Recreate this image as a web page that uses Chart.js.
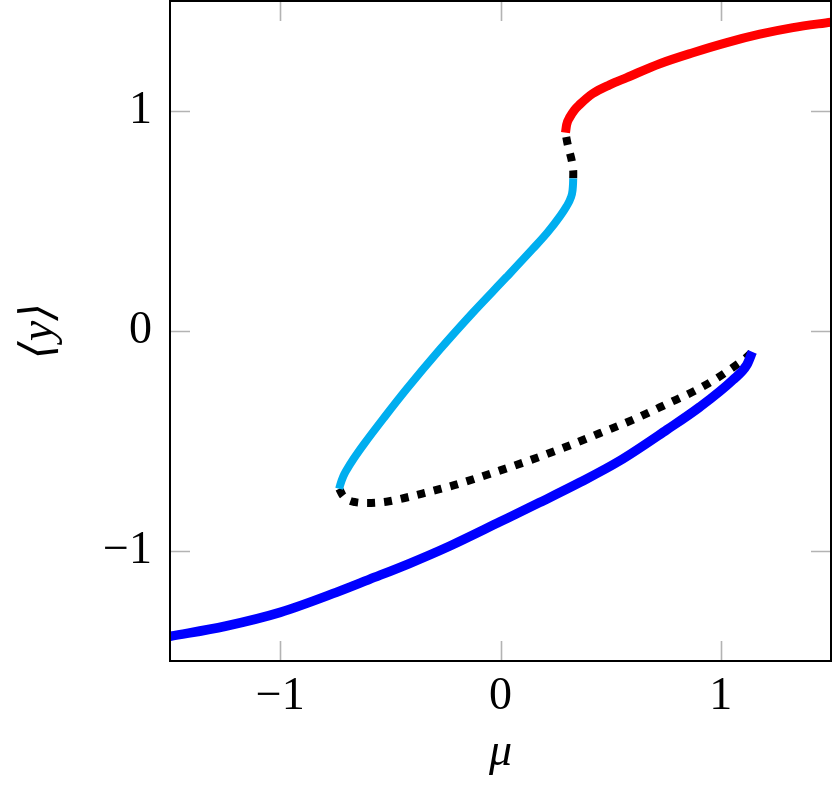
<!DOCTYPE html>
<html>
<head>
<meta charset="utf-8">
<script src="https://cdn.jsdelivr.net/npm/chart.js@4/dist/chart.umd.min.js"></script>
<style>
html,body{margin:0;padding:0;background:#fff;}
canvas{display:block;}
</style>
</head>
<body>
<canvas id="c" width="832" height="789"></canvas>
<script>
// ---- data ----
const xTicks = [-1, 0, 1];
const yTicks = [-1, 0, 1];

// lower stable branch
const blueX = [-1.5, -1.25, -1.0, -0.745, -0.595, -0.414, -0.245, 0, 0.177, 0.359, 0.541, 0.755, 0.905, 1.055, 1.118, 1.143];
const blueY = [-1.388, -1.342, -1.279, -1.188, -1.129, -1.057, -0.984, -0.866, -0.780, -0.689, -0.590, -0.449, -0.345, -0.222, -0.154, -0.095];

// middle stable branch
const cyanX = [-0.732, -0.727, -0.714, -0.695, -0.668, -0.618, -0.527, -0.427, -0.277, -0.127, 0.027, 0.145, 0.214, 0.268, 0.3, 0.318, 0.327, 0.3293, 0.330];
const cyanY = [-0.717, -0.698, -0.662, -0.626, -0.583, -0.512, -0.392, -0.265, -0.086, 0.082, 0.245, 0.372, 0.449, 0.519, 0.567, 0.603, 0.639, 0.671, 0.694];

// upper stable branch
const redX = [0.295, 0.300, 0.314, 0.336, 0.359, 0.418, 0.495, 0.573, 0.723, 0.873, 1.027, 1.177, 1.327, 1.5];
const redY = [0.902, 0.937, 0.971, 1.005, 1.029, 1.079, 1.119, 1.152, 1.215, 1.265, 1.311, 1.349, 1.379, 1.404];

// lower unstable branch (dotted)
const lowDashX = [-0.732, -0.718, -0.695, -0.659, -0.605, -0.518, -0.436, -0.355, -0.273, -0.191, -0.032, 0.132, 0.286, 0.45, 0.6, 0.755, 0.905, 0.982, 1.05, 1.114, 1.143];
const lowDashY = [-0.717, -0.744, -0.766, -0.778, -0.782, -0.776, -0.759, -0.739, -0.718, -0.695, -0.644, -0.588, -0.531, -0.465, -0.404, -0.332, -0.260, -0.215, -0.169, -0.122, -0.095];

// upper unstable branch (dotted)
const upDashX = [0.330, 0.330, 0.323, 0.314, 0.305, 0.298, 0.295];
const upDashY = [0.694, 0.730, 0.776, 0.812, 0.848, 0.884, 0.902];

const pts = (xs, ys) => xs.map((x, i) => ({x: x, y: ys[i]}));
const fmt = v => (v < 0 ? '\u2212' + Math.abs(v) : String(v));
const FONT = "'Liberation Serif', 'DejaVu Serif', serif";

const frame = {
  id: 'frame',
  beforeDatasetsDraw(chart) {
    const ctx = chart.ctx, a = chart.chartArea;
    const sx = chart.scales.x, sy = chart.scales.y;
    ctx.save();
    ctx.strokeStyle = '#b3b3b3';
    ctx.lineWidth = 1.6;
    ctx.beginPath();
    xTicks.forEach(v => {
      const p = Math.round(sx.getPixelForValue(v)) + 0.5;
      ctx.moveTo(p, a.bottom); ctx.lineTo(p, a.bottom - 20);
      ctx.moveTo(p, a.top); ctx.lineTo(p, a.top + 20);
    });
    yTicks.forEach(v => {
      const p = Math.round(sy.getPixelForValue(v)) + 0.5;
      ctx.moveTo(a.left, p); ctx.lineTo(a.left + 20, p);
      ctx.moveTo(a.right, p); ctx.lineTo(a.right - 20, p);
    });
    ctx.stroke();
    ctx.restore();
  },
  afterDatasetsDraw(chart) {
    const ctx = chart.ctx, a = chart.chartArea;
    ctx.save();
    ctx.strokeStyle = '#000';
    ctx.lineWidth = 2;
    ctx.strokeRect(a.left, a.top, a.right - a.left, a.bottom - a.top);
    ctx.restore();
  }
};

const common = {showLine: true, pointRadius: 0, fill: false, clip: 0, borderCapStyle: 'butt', borderJoinStyle: 'round', cubicInterpolationMode: 'monotone'};

new Chart(document.getElementById('c'), {
  type: 'scatter',
  data: {
    datasets: [
      Object.assign({}, common, {data: pts(blueX, blueY), borderColor: '#0000ff', borderWidth: 9.5}),
      Object.assign({}, common, {data: pts(cyanX, cyanY), borderColor: '#00aeef', borderWidth: 8}),
      Object.assign({}, common, {data: pts(redX, redY), borderColor: '#ff0000', borderWidth: 9}),
      Object.assign({}, common, {data: pts(lowDashX, lowDashY), borderColor: '#000000', borderWidth: 8, borderDash: [8, 9]}),
      Object.assign({}, common, {data: pts(upDashX, upDashY), borderColor: '#000000', borderWidth: 8, borderDash: [8, 9], cubicInterpolationMode: 'default', tension: 0.3})
    ]
  },
  options: {
    responsive: false,
    animation: false,
    layout: {padding: {top: 1, right: 1, left: 0, bottom: 0}},
    plugins: {legend: {display: false}, tooltip: {enabled: false}},
    scales: {
      x: {
        type: 'linear', min: -1.5, max: 1.5,
        afterBuildTicks: s => { s.ticks = xTicks.map(v => ({value: v})); },
        afterFit: s => { s.height = 128; s.paddingLeft = 0; s.paddingRight = 0; },
        grid: {display: false, drawTicks: false},
        border: {display: false},
        ticks: {callback: fmt, color: '#000', padding: 8, maxRotation: 0, font: {family: FONT, size: 46}},
        title: {display: true, text: '\u03bc', color: '#000', padding: {top: 0, bottom: 8}, font: {family: FONT, size: 46, style: 'italic'}}
      },
      y: {
        type: 'linear', min: -1.5, max: 1.5,
        afterBuildTicks: s => { s.ticks = yTicks.map(v => ({value: v})); },
        afterFit: s => { s.width = 170; s.paddingTop = 0; s.paddingBottom = 0; },
        grid: {display: false, drawTicks: false},
        border: {display: false},
        ticks: {callback: fmt, color: '#000', padding: 18, font: {family: FONT, size: 46}},
        title: {display: true, text: '\u27e8y\u27e9', color: '#000', padding: {top: 12, bottom: 0}, font: {family: FONT, size: 46, style: 'italic'}}
      }
    }
  },
  plugins: [frame]
});
</script>
</body>
</html>
